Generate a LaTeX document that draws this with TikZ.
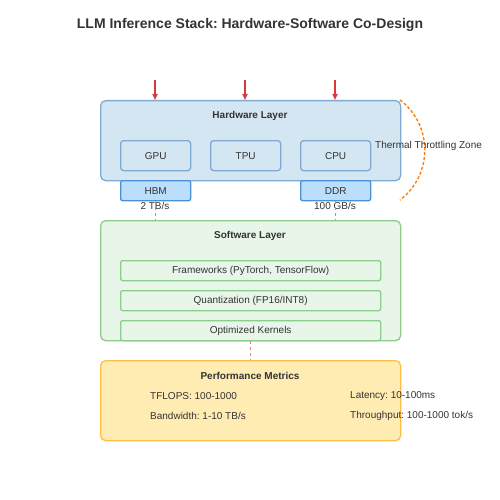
\documentclass[tikz,border=0pt]{standalone}
\usepackage{fontspec}
\setmainfont{Liberation Sans}
\usetikzlibrary{arrows.meta}
\frenchspacing
\definecolor{txt}{RGB}{51,51,51}
\definecolor{hwfill}{RGB}{212,230,242}
\definecolor{hwdraw}{RGB}{128,170,212}
\definecolor{memfill}{RGB}{187,222,251}
\definecolor{memdraw}{RGB}{74,144,217}
\definecolor{swfill}{RGB}{232,245,233}
\definecolor{swdraw}{RGB}{140,205,140}
\definecolor{pffill}{RGB}{255,236,179}
\definecolor{pfdraw}{RGB}{255,190,70}
\definecolor{arr}{RGB}{214,58,58}
\definecolor{dash}{RGB}{232,120,120}
\definecolor{therm}{RGB}{255,127,14}
\tikzset{
  layerbox/.style={draw, line width=1.3pt, rounded corners=5pt, inner sep=0pt, anchor=north west},
  unitbox/.style={draw=hwdraw, fill=hwfill, line width=1.3pt, rounded corners=3pt, inner sep=0pt, anchor=north west, minimum width=70pt, minimum height=30pt, font=\fontsize{10}{12}\selectfont, text=txt},
  membox/.style={draw=memdraw, fill=memfill, line width=1.3pt, rounded corners=2pt, inner sep=0pt, anchor=north west, minimum width=70pt, minimum height=20pt, font=\fontsize{10}{12}\selectfont, text=txt},
  swbox/.style={draw=swdraw, fill=swfill, line width=1.3pt, rounded corners=2pt, inner sep=0pt, anchor=north west, minimum width=260pt, minimum height=20pt, font=\fontsize{10}{12}\selectfont, text=txt},
  lbl/.style={font=\fontsize{10}{12}\selectfont, text=txt, inner sep=0pt},
  small/.style={font=\fontsize{10}{12}\selectfont, text=txt, inner sep=0pt},
  heading/.style={font=\bfseries\fontsize{10}{12}\selectfont, text=txt, inner sep=0pt},
  inarrow/.style={draw=arr, line width=1.5pt, -{Triangle[length=6pt,width=5pt]}},
  link/.style={draw=dash, line width=1.3pt, dash pattern=on 3pt off 3pt},
}
\begin{document}
\begin{tikzpicture}[x=1pt,y=-1pt]
\useasboundingbox (0,0) rectangle (500,500);
\node[font=\bfseries\fontsize{14}{16}\selectfont, text=txt] (title) at (250,25) {LLM Inference Stack: Hardware-Software Co-Design};

% Hardware layer
\node[layerbox, draw=hwdraw, fill=hwfill, minimum width=300pt, minimum height=80pt] (hw) at (100,100) {};
\node[heading] (hwt) at (250,116) {Hardware Layer};
\node[unitbox] (gpu) at (120,140) {GPU};
\node[unitbox] (tpu) at (210,140) {TPU};
\node[unitbox] (cpu) at (300,140) {CPU};
\node[membox] (hbm) at (120,180) {HBM};
\node[membox] (ddr) at (300,180) {DDR};
\node[lbl] (hbmbw) at (155,206) {2 TB/s};
\node[lbl] (ddrbw) at (335,206) {100 GB/s};

% input arrows
\coordinate (a1) at (155,80);
\coordinate (a2) at (245,80);
\coordinate (a3) at (335,80);
\draw[inarrow] (a1) -- (a1 |- hw.north);
\draw[inarrow] (a2) -- (a2 |- hw.north);
\draw[inarrow] (a3) -- (a3 |- hw.north);

% thermal zone
\coordinate (t1) at (400,100);
\coordinate (t2) at (400,200);
\draw[therm, line width=1.4pt, dash pattern=on 3pt off 2pt] (t1) .. controls (433,125) and (433,175) .. (t2);
\node[lbl, anchor=west] (thermt) at (375,146) {Thermal Throttling Zone};

% Software layer
\node[layerbox, draw=swdraw, fill=swfill, minimum width=300pt, minimum height=120pt] (sw) at (100,220) {};
\node[heading] (swt) at (250,236) {Software Layer};
\node[swbox] (fw) at (120,260) {Frameworks (PyTorch, TensorFlow)};
\node[swbox] (qz) at (120,290) {Quantization (FP16/INT8)};
\node[swbox] (ok) at (120,320) {Optimized Kernels};

\draw[link] (hbm.south) -- (hbm.south |- sw.north);
\draw[link] (ddr.south) -- (ddr.south |- sw.north);

% Performance
\node[layerbox, draw=pfdraw, fill=pffill, minimum width=300pt, minimum height=80pt] (pf) at (100,360) {};
\node[heading] (pft) at (250,376) {Performance Metrics};
\node[small, anchor=west] (m1) at (150,396) {TFLOPS: 100-1000};
\node[small, anchor=west] (m2) at (150,416) {Bandwidth: 1-10 TB/s};
\node[small, anchor=west] (m3) at (350,396) {Latency: 10-100ms};
\node[small, anchor=west] (m4) at (350,416) {Throughput: 100-1000 tok/s};

\draw[link] (sw.south) -- (pf.north);
\end{tikzpicture}
\end{document}
